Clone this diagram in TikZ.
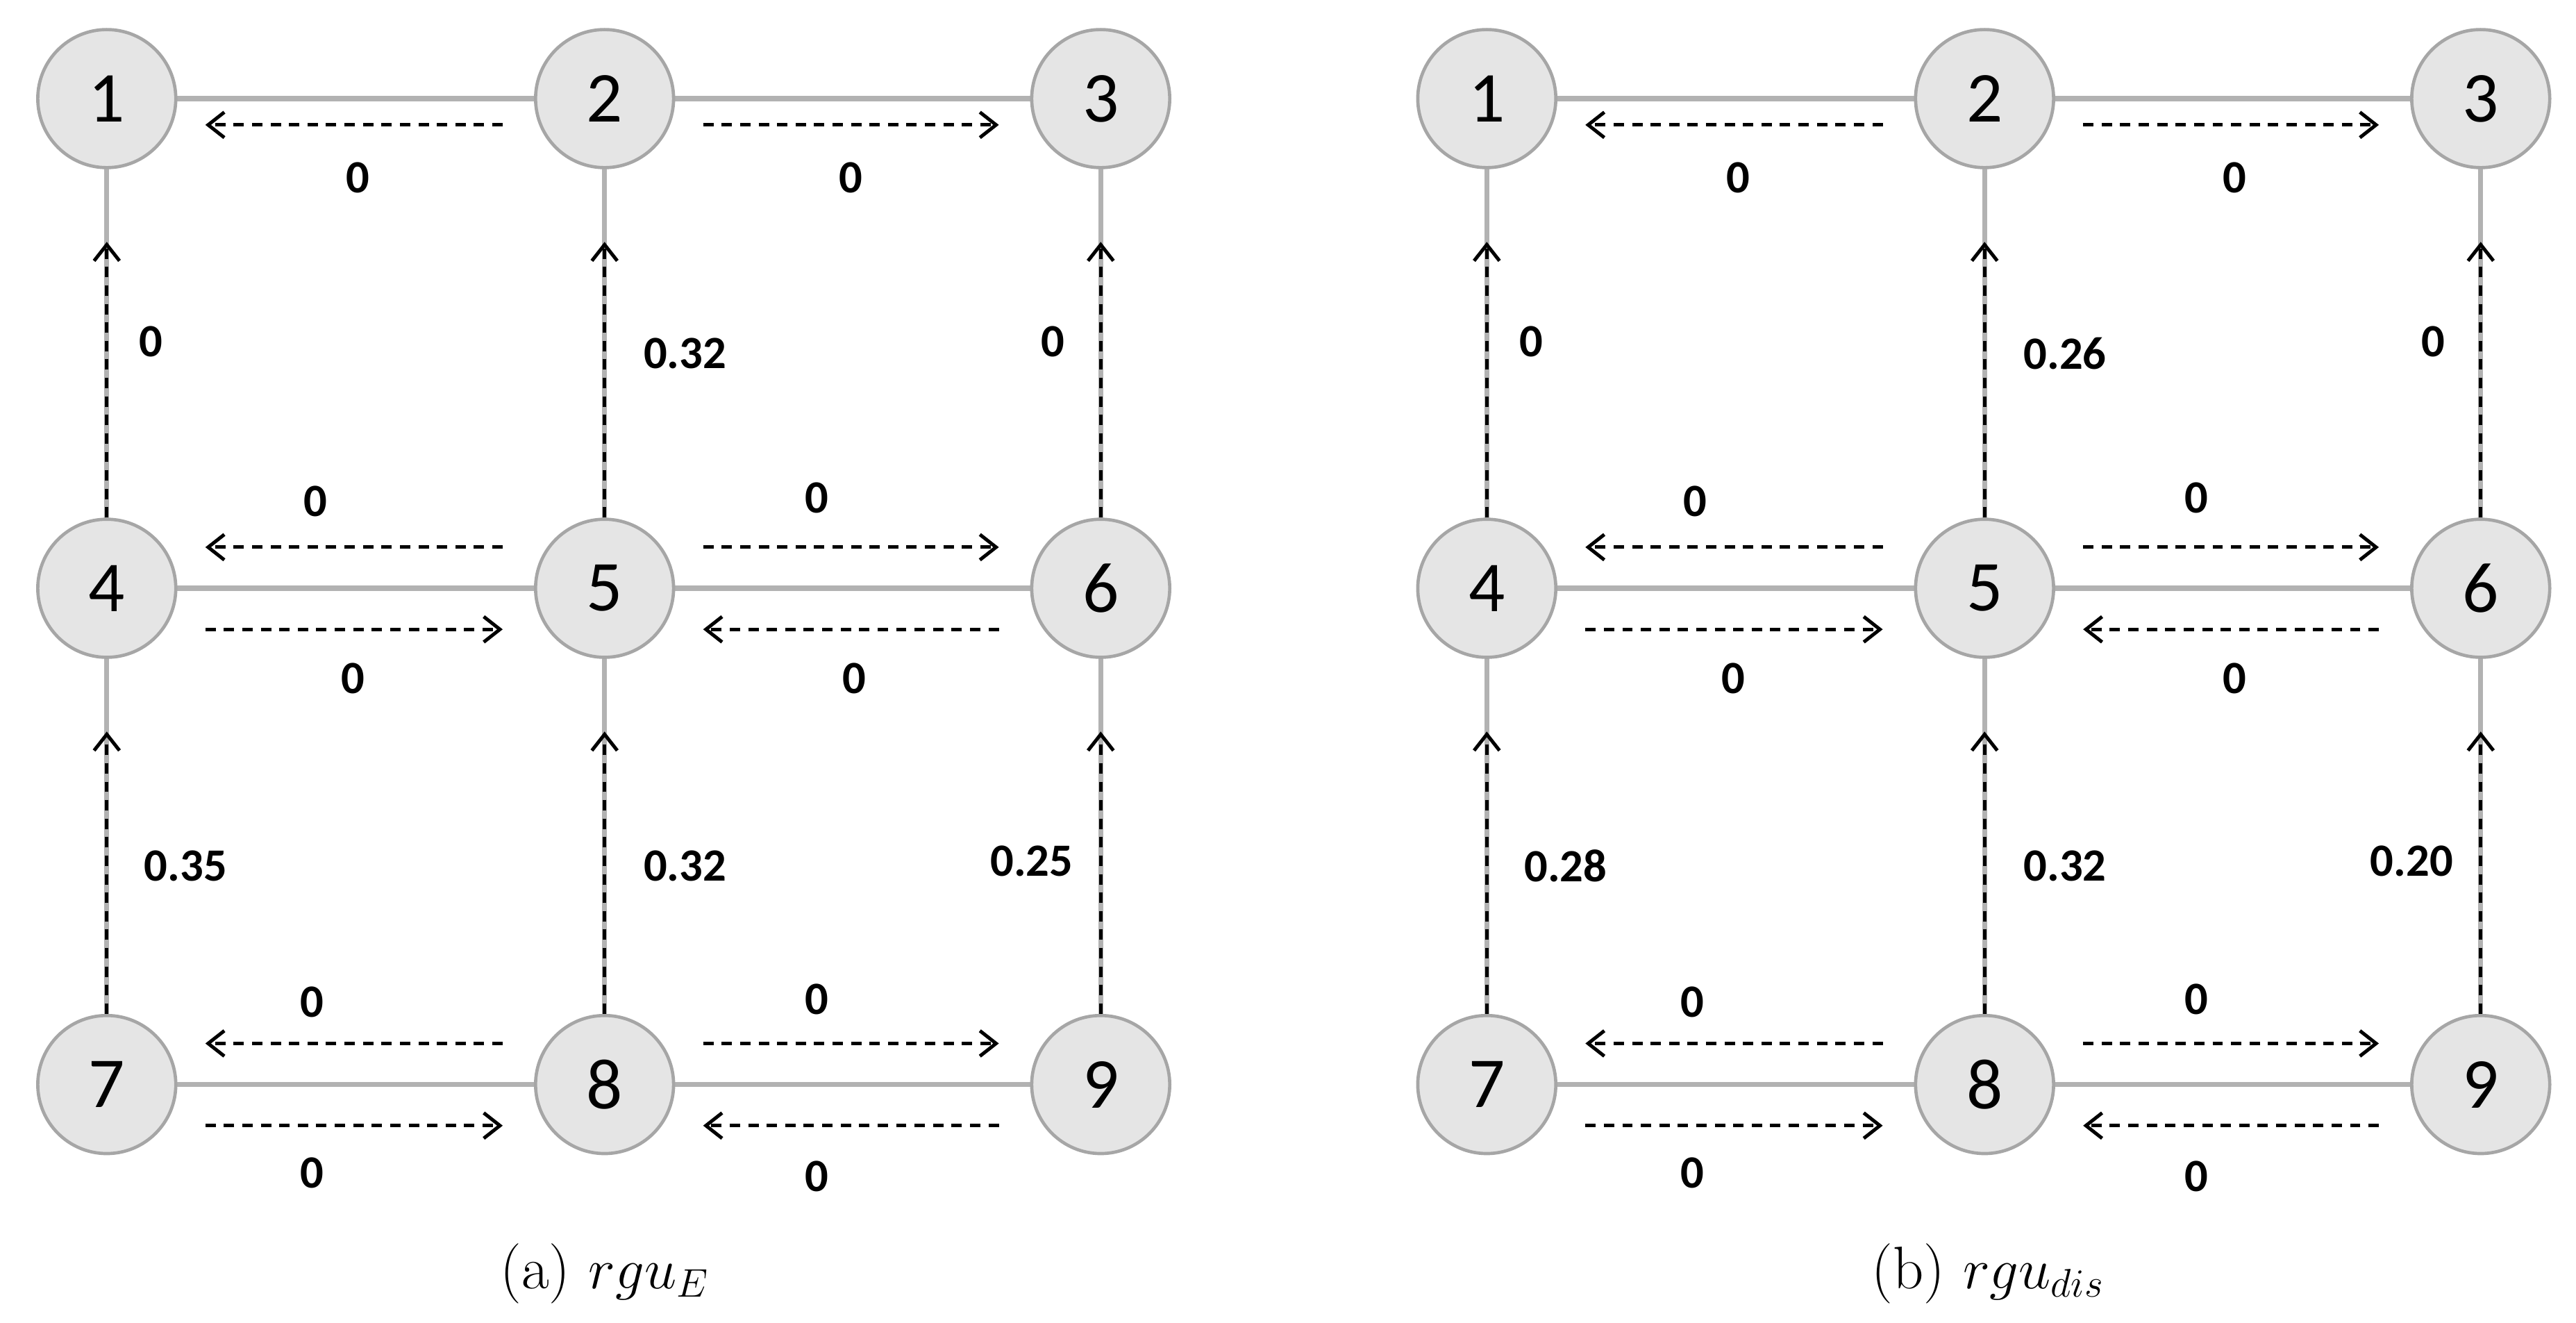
\documentclass[tikz,border=0pt]{standalone}
\usepackage{fontspec}
\newfontfamily\calfnt{Carlito}
\usetikzlibrary{arrows.meta}
\begin{document}
\begin{tikzpicture}[x=0.025cm,y=-0.025cm,
 nd/.style={circle,draw=black!35,line width=1.4pt,fill=black!10,minimum size=2.1cm,inner sep=0pt,font=\calfnt\fontsize{31}{31}\selectfont},
 ln/.style={draw=black!30,line width=2.2pt},
 ar/.style={draw=black,line width=1.5pt,dash pattern=on 4.5pt off 3.5pt,-{Straight Barb[length=7pt,width=11pt,line width=1.5pt]}},
 lb/.style={font=\calfnt\bfseries\fontsize{20}{20}\selectfont}]
\useasboundingbox (0,0) rectangle (1568,805);
\foreach \p/\ox in {a/0,b/840}{
 \foreach \n/\x/\y in {1/65/60,2/368/60,3/670/60,4/65/358,5/368/358,6/670/358,7/65/660,8/368/660,9/670/660}{
  \coordinate (\p c\n) at (\x+\ox,\y);
 }
 \foreach \u/\v in {1/2,2/3,4/5,5/6,7/8,8/9,1/4,2/5,3/6,4/7,5/8,6/9}{\draw[ln] (\p c\u)--(\p c\v);}
 \foreach \n in {1,...,9}{\node[nd] (\p\n) at (\p c\n) {\n};}
 \foreach \u/\v/\dy/\dir in {1/2/16/l,2/3/16/r,4/5/-25/l,4/5/25/r,5/6/-25/r,5/6/25/l,7/8/-25/l,7/8/25/r,8/9/-25/r,8/9/25/l}{
  \coordinate (\p s\u\v\dir) at ([shift={(60,\dy)}]\p c\u);
  \coordinate (\p t\u\v\dir) at ([shift={(-62,\dy)}]\p c\v);
  \if\dir l \draw[ar] (\p t\u\v\dir)--(\p s\u\v\dir); \else \draw[ar] (\p s\u\v\dir)--(\p t\u\v\dir); \fi
 }
 \foreach \u/\v in {4/1,5/2,6/3,7/4,8/5,9/6}{
  \coordinate (\p e\u) at ([yshift=-62]\p c\v);
  \draw[ar] (\p\u.north)--(\p e\u);
 }
}
\foreach \t/\x/\y in {0/218/108,0/518/108,0/192/305,0/215/413,0/497/303,0/520/413,0/190/610,0/190/714,0/497/608,0/497/716,0/92/208,0.32/417/215,0/641/208,0.35/113/527,0.32/417/527,0.25/628/524}{\node[lb] (la\x\y) at (\x,\y) {\t};}
\foreach \t/\x/\y in {0/1058/108,0/1360/108,0/1032/305,0/1055/413,0/1337/303,0/1360/413,0/1030/610,0/1030/714,0/1337/608,0/1337/716,0/932/208,0.26/1257/215,0/1481/208,0.28/953/527,0.32/1257/527,0.20/1468/524}{\node[lb] (lb\x\y) at (\x,\y) {\t};}
\node[font=\fontsize{26}{26}\selectfont] (capa) at (368,775) {(a) $rgu_E$};
\node[font=\fontsize{26}{26}\selectfont] (capb) at (1210,775) {(b) $rgu_{dis}$};
\end{tikzpicture}
\end{document}
